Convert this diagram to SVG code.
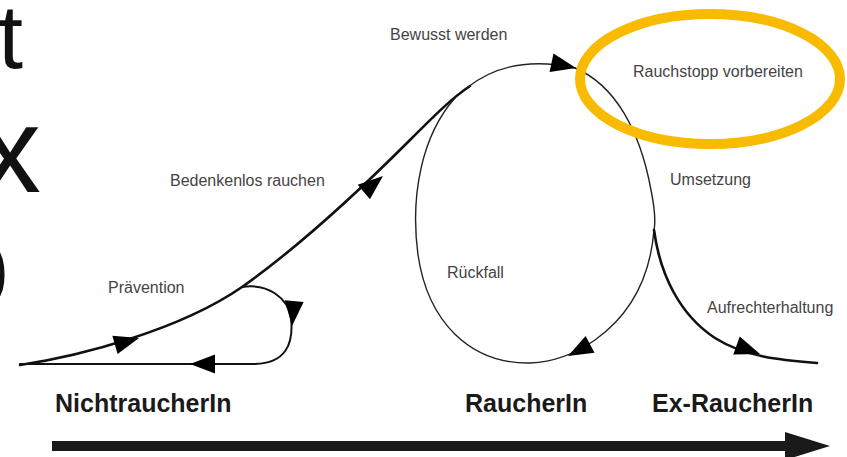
<svg xmlns="http://www.w3.org/2000/svg" xmlns:xlink="http://www.w3.org/1999/xlink" width="847" height="457" viewBox="0 0 847 457">
  <style>
    .big { font-family: "Liberation Sans", Arial, sans-serif; fill: #111; text-anchor: end; }
    .lbl { font-family: "Liberation Sans", Arial, sans-serif; font-size: 16px; fill: #444; }
    .stage { font-family: "Liberation Sans", Arial, sans-serif; font-size: 25px; font-weight: bold; fill: #1a1a1a; }
    .thick { fill: none; stroke: #111; stroke-width: 2.6; stroke-linecap: round; stroke-linejoin: round; }
    .thin { fill: none; stroke: #222; stroke-width: 1.4; stroke-linecap: round; }
    .mid { fill: none; stroke: #111; stroke-width: 2; stroke-linecap: round; }
    .head { fill: #000; }
  </style>
  <defs>
    <!-- filled arrowhead, tip at origin pointing along +x -->
    <path id="ah" d="M0,0 L-25,-9.5 L-25,9.5 Z"/>
  </defs>

  <rect width="847" height="457" fill="#fff"/>

  <!-- large text fragments along the left edge -->
  <text class="big" x="23" y="68" font-size="90">t</text>
  <text class="big" x="41" y="192" font-size="123">x</text>
  <text class="big" x="10" y="309" font-size="128">o</text>

  <g id="connectors">
    <!-- main rising line -->
    <path class="thick" d="M20,365 C80,356 180,330 242,287 C300,246 360,190 410,140 C435,115 452,98 470,86"/>
    <!-- prevention loop back to start -->
    <path class="mid" d="M242,287 C268,283 288,298 291,318 C294,345 285,363 255,364 L20,364"/>
    <!-- top arc into the cycle -->
    <path class="thin" d="M468,87 C495,66 530,58 575,68"/>
    <!-- right side of cycle down to split point -->
    <path class="thin" d="M575,68 C615,85 640,130 651,190 C656,215 655,225 654,230"/>
    <!-- relapse side: down to bottom and back up the left -->
    <path class="thin" d="M654,230 C650,280 630,315 595,340 C575,354 555,362 530,363 C470,364 428,322 418,255 C410,195 422,135 455,98"/>
    <!-- maintenance branch -->
    <path class="thick" d="M654,230 C660,275 680,315 715,338 C745,357 780,360 817,363"/>

    <!-- arrowheads -->
    <use xlink:href="#ah" class="head" transform="translate(139,338) rotate(-16)"/>
    <use xlink:href="#ah" class="head" transform="translate(383,176) rotate(-40)"/>
    <use xlink:href="#ah" class="head" transform="translate(576,68) rotate(12)"/>
    <use xlink:href="#ah" class="head" transform="translate(292,326) rotate(95)"/>
    <use xlink:href="#ah" class="head" transform="translate(190,364) rotate(180)"/>
    <use xlink:href="#ah" class="head" transform="translate(568,356) rotate(152)"/>
    <use xlink:href="#ah" class="head" transform="translate(760,354) rotate(20)"/>

    <!-- timeline arrow -->
    <path fill="#1a1a1a" d="M52,441 L785,441 L785,432 L830,446 L785,460 L785,451 L52,451 Z"/>
  </g>

  <g id="label-bewusst"><text class="lbl" x="390" y="40">Bewusst werden</text></g>
  <g id="label-bedenkenlos"><text class="lbl" x="170" y="186">Bedenkenlos rauchen</text></g>
  <g id="label-praevention"><text class="lbl" x="108" y="293">Prävention</text></g>
  <g id="label-umsetzung"><text class="lbl" x="670" y="185">Umsetzung</text></g>
  <g id="label-rueckfall"><text class="lbl" x="447" y="278">Rückfall</text></g>
  <g id="label-aufrechterhaltung"><text class="lbl" x="707" y="313">Aufrechterhaltung</text></g>

  <g id="node-rauchstopp">
    <ellipse cx="710" cy="79" rx="130" ry="65" fill="none" stroke="#f8bb00" stroke-width="10"/>
    <text class="lbl" x="633" y="77">Rauchstopp vorbereiten</text>
  </g>

  <g id="stage-nichtraucher"><text class="stage" x="55" y="412">NichtraucherIn</text></g>
  <g id="stage-raucher"><text class="stage" x="465" y="412">RaucherIn</text></g>
  <g id="stage-exraucher"><text class="stage" x="652" y="412">Ex-RaucherIn</text></g>
</svg>
